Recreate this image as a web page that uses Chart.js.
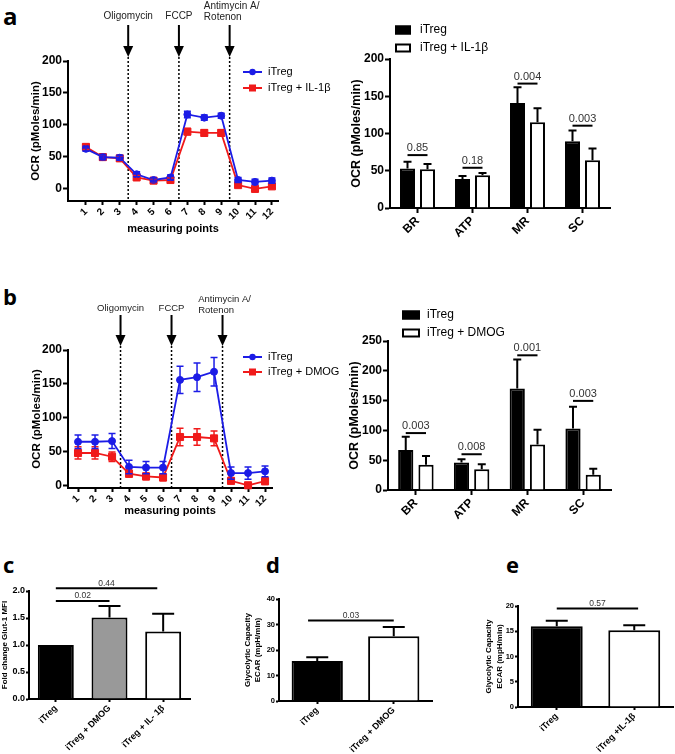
<!DOCTYPE html>
<html><head><meta charset="utf-8">
<script src="https://cdn.jsdelivr.net/npm/chart.js@4/dist/chart.umd.min.js"></script>
<style>
body{margin:0;background:#fff;width:675px;height:754px;position:relative;overflow:hidden;}
canvas{position:absolute;}
.lbl{position:absolute;font-family:'Open Sans',Arial,sans-serif;font-weight:700;line-height:1;color:#000;}
</style></head><body>
<div class="lbl" style="left:3px;top:4px;font-size:24px">a</div>
<div class="lbl" style="left:3px;top:285px;font-size:22px">b</div>
<div class="lbl" style="left:3px;top:553px;font-size:22px">c</div>
<div class="lbl" style="left:266px;top:553px;font-size:22px">d</div>
<div class="lbl" style="left:506px;top:553px;font-size:22px">e</div>
<canvas id="aL" width="345" height="240" style="left:0;top:0"></canvas>
<canvas id="aR" width="330" height="250" style="left:345px;top:0"></canvas>
<canvas id="bL" width="345" height="260" style="left:0;top:260px"></canvas>
<canvas id="bR" width="330" height="270" style="left:345px;top:260px"></canvas>
<canvas id="cC" width="225" height="234" style="left:0;top:520px"></canvas>
<canvas id="dC" width="225" height="234" style="left:225px;top:520px"></canvas>
<canvas id="eC" width="225" height="234" style="left:450px;top:520px"></canvas>
<script>
// ================= DATA =================
const measuringPoints = [1,2,3,4,5,6,7,8,9,10,11,12];
const injectionsAt = [3.5, 6.5, 9.5];
const injectionLabels = [['Oligomycin'], ['FCCP'], ['Antimycin A/', 'Rotenon']];
const ocrTicks = [0, 50, 100, 150, 200];

// panel a (left): OCR time course
const ocrA_iTreg     = [62, 49, 48, 22, 13, 17, 116, 111, 114, 13, 10, 12];
const ocrA_iTreg_sem = [4, 4, 4, 4, 3, 4, 5, 4, 4, 4, 4, 4];
const ocrA_il1b      = [65, 49, 47, 17, 12, 13, 89, 87, 87, 5, -1, 3];
const ocrA_il1b_sem  = [4, 4, 4, 3, 3, 3, 5, 5, 5, 3, 3, 3];
const seriesA = ['iTreg', 'iTreg + IL-1\u03b2'];

// panel b (left): OCR time course
const ocrB_iTreg     = [65, 65, 66, 28, 27, 27, 156, 160, 168, 19, 19, 21.5];
const ocrB_iTreg_sem = [10, 10, 11, 10, 9, 9, 20, 21, 21, 9, 9, 8];
const ocrB_dmog      = [48.5, 48.5, 43, 18, 14, 12.5, 72, 72, 70, 7.5, 1, 7];
const ocrB_dmog_sem  = [9, 9, 7, 5, 5, 5, 13, 12, 11, 4, 2, 5];
const seriesB = ['iTreg', 'iTreg + DMOG'];

// respiration parameters
const paramCats = ['BR', 'ATP', 'MR', 'SC'];
const paramA_iTreg = [53, 39, 141, 89.5];
const paramA_iTreg_sem = [9, 4, 21, 14.5];
const paramA_il1b = [52, 44, 115, 64];
const paramA_il1b_sem = [7, 3, 19, 16];
const paramA_p = ['0.85', '0.18', '0.004', '0.003'];
const paramA_pLevel = [71, 54, 167, 110.5];
const paramATicks = [0, 50, 100, 150, 200];

const paramB_iTreg = [67, 46, 170.5, 103];
const paramB_iTreg_sem = [22.5, 5.5, 48.5, 36.5];
const paramB_dmog = [42.5, 35, 76.5, 25.7];
const paramB_dmog_sem = [14.5, 8, 24.5, 10];
const paramB_p = ['0.003', '0.008', '0.001', '0.003'];
const paramB_pLevel = [95.5, 60, 226, 149.5];
const paramBTicks = [0, 50, 100, 150, 200, 250];

// panel c: Glut-1
const glutCats = ['iTreg', 'iTreg + DMOG', 'iTreg + IL- 1\u03b2'];
const glutFold = [1.0, 1.51, 1.25];
const glutSem = [0, 0.21, 0.33];
const glutTicks = [0, 0.5, 1.0, 1.5, 2.0];
const glutP = ['0.02', '0.44'];
const glutPLevel = [1.815, 2.05];
const glutPFrom = [0, 0];
const glutPTo = [1, 1.89];

// panel d: glycolytic capacity DMOG
const ecarDCats = ['iTreg', 'iTreg + DMOG'];
const ecarD = [15.7, 25.4];
const ecarDSem = [1.5, 3.6];
const ecarDTicks = [0, 10, 20, 30, 40];
const ecarDP = ['0.03'];
const ecarDPLevel = [31.6];
const ecarDPFrom = [-0.12];
const ecarDPTo = [1.0];

// panel e: glycolytic capacity IL-1b
const ecarECats = ['iTreg', 'iTreg +IL-1\u03b2'];
const ecarE = [16.0, 15.2];
const ecarESem = [1.1, 1.0];
const ecarETicks = [0, 5, 10, 15, 20];
const ecarEP = ['0.57'];
const ecarEPLevel = [19.5];
const ecarEPFrom = [0];
const ecarEPTo = [1.05];

// ================= STYLE / HELPERS =================
const FONT = "'Liberation Sans', Arial, Helvetica, sans-serif";
const BLACK = '#000';
const BLUE = '#1c1ce6';
const RED = '#f01a1a';
function f(size, weight, lh){ return {family: FONT, size: size, weight: weight || 'bold', lineHeight: lh || 1.2}; }

function lockScale(size){
  return function(s){
    if (s.isHorizontal()) s.height = size; else s.width = size;
    s.paddingLeft = 0; s.paddingRight = 0; s.paddingTop = 0; s.paddingBottom = 0;
  };
}

function axisY(o){
  return {
    min: o.min, max: o.max,
    afterBuildTicks: s => { s.ticks = o.ticks.map(v => ({value: v})); },
    afterFit: lockScale(o.width),
    border: {display: true, color: BLACK, width: 2},
    grid: {drawOnChartArea: false, drawTicks: true, tickLength: o.tickLen || 5, tickColor: BLACK, tickWidth: 2},
    ticks: {color: BLACK, font: f(o.tickSize), padding: o.tickPad || 1, autoSkip: false,
            callback: o.fmt || (v => v)},
    title: {display: true, text: o.title, color: BLACK, font: f(o.titleSize, 'bold', o.titleLH || 1.2),
            padding: {top: o.titlePad, bottom: 0}}
  };
}

function axisXCat(o){
  return {
    afterFit: lockScale(o.height),
    border: {display: true, color: BLACK, width: 2},
    grid: {drawOnChartArea: false, drawTicks: true, offset: false, tickLength: o.tickLen || 4, tickColor: BLACK, tickWidth: 2},
    ticks: {color: BLACK, font: f(o.tickSize), minRotation: 45, maxRotation: 45, padding: o.tickPad || 1, autoSkip: false}
  };
}

const baseOpts = (pad) => ({
  responsive: false, animation: false, devicePixelRatio: 1, events: [],
  layout: {autoPadding: false, padding: pad},
  plugins: {legend: {display: false}, tooltip: {enabled: false}}
});

// ----- plugins -----
function injPlugin(g){
  return {id: 'inj', beforeDatasetsDraw(chart){
    const ctx = chart.ctx, x = chart.scales.x, bottom = chart.chartArea.bottom;
    ctx.save();
    injectionsAt.forEach((v, k) => {
      const px = x.getPixelForValue(v);
      ctx.strokeStyle = BLACK; ctx.lineWidth = 1.5; ctx.setLineDash([2, 2]);
      ctx.beginPath(); ctx.moveTo(px, g.tip); ctx.lineTo(px, bottom); ctx.stroke();
      ctx.setLineDash([]); ctx.lineWidth = 2;
      ctx.beginPath(); ctx.moveTo(px, g.top); ctx.lineTo(px, g.tip - 9); ctx.stroke();
      ctx.fillStyle = BLACK;
      ctx.beginPath(); ctx.moveTo(px - 5, g.tip - 11); ctx.lineTo(px + 5, g.tip - 11); ctx.lineTo(px, g.tip); ctx.closePath(); ctx.fill();
      ctx.fillStyle = '#222'; ctx.font = g.font + 'px ' + FONT; ctx.textBaseline = 'middle';
      const lines = injectionLabels[k];
      if (lines.length === 1) {
        ctx.textAlign = 'center'; ctx.fillText(lines[0], px, g.single);
      } else {
        const w0 = ctx.measureText(lines[0]).width;
        ctx.textAlign = 'left';
        lines.forEach((t, j) => ctx.fillText(t, px - w0 / 2 + 2, g.multi[j]));
      }
    });
    ctx.restore();
  }};
}

const lineErrPlugin = {id: 'lerr', afterDatasetsDraw(chart){
  const ctx = chart.ctx, y = chart.scales.y;
  ctx.save();
  for (let di = chart.data.datasets.length - 1; di >= 0; di--) {
    const ds = chart.data.datasets[di], meta = chart.getDatasetMeta(di);
    ctx.strokeStyle = ds.borderColor; ctx.lineWidth = 1.5;
    meta.data.forEach((pt, i) => {
      const v = ds.data[i].y, e = ds.err[i];
      const yt = y.getPixelForValue(v + e), yb = y.getPixelForValue(v - e);
      ctx.beginPath();
      ctx.moveTo(pt.x, yt); ctx.lineTo(pt.x, yb);
      ctx.moveTo(pt.x - 3.5, yt); ctx.lineTo(pt.x + 3.5, yt);
      ctx.moveTo(pt.x - 3.5, yb); ctx.lineTo(pt.x + 3.5, yb);
      ctx.stroke();
    });
  }
  ctx.restore();
}};

function lineLegendPlugin(L){
  return {id: 'lleg', afterDraw(chart){
    const ctx = chart.ctx; ctx.save();
    chart.data.datasets.forEach((ds, i) => {
      const y = L.ys[i];
      ctx.strokeStyle = ds.borderColor; ctx.lineWidth = 2;
      ctx.beginPath(); ctx.moveTo(L.x, y); ctx.lineTo(L.x + 19, y); ctx.stroke();
      ctx.fillStyle = ds.borderColor;
      const cx = L.x + 9.5;
      if (ds.pointStyle === 'rect') ctx.fillRect(cx - 3.5, y - 3.5, 7, 7);
      else { ctx.beginPath(); ctx.arc(cx, y, 3.2, 0, Math.PI * 2); ctx.fill(); }
      ctx.fillStyle = BLACK; ctx.font = L.font + 'px ' + FONT;
      ctx.textBaseline = 'middle'; ctx.textAlign = 'left';
      ctx.fillText(ds.label, L.x + 25, y);
    });
    ctx.restore();
  }};
}

function barErrPlugin(capHalf){
  return {id: 'berr', afterDatasetsDraw(chart){
    const ctx = chart.ctx, y = chart.scales.y;
    ctx.save(); ctx.strokeStyle = BLACK; ctx.lineWidth = 2;
    chart.data.datasets.forEach((ds, di) => {
      const meta = chart.getDatasetMeta(di);
      meta.data.forEach((bar, i) => {
        const e = ds.err[i]; if (!e) return;
        const top = y.getPixelForValue(ds.data[i] + e);
        ctx.beginPath();
        ctx.moveTo(bar.x, bar.y); ctx.lineTo(bar.x, top);
        ctx.moveTo(bar.x - capHalf, top); ctx.lineTo(bar.x + capHalf, top);
        ctx.stroke();
      });
    });
    ctx.restore();
  }};
}

function groupBracketPlugin(levels, texts, fs){
  return {id: 'gbr', afterDatasetsDraw(chart){
    const ctx = chart.ctx, y = chart.scales.y;
    const m0 = chart.getDatasetMeta(0), m1 = chart.getDatasetMeta(1);
    ctx.save(); ctx.strokeStyle = BLACK; ctx.lineWidth = 2;
    ctx.fillStyle = '#333'; ctx.font = fs + 'px ' + FONT; ctx.textAlign = 'center'; ctx.textBaseline = 'alphabetic';
    levels.forEach((v, i) => {
      const x1 = m0.data[i].x, x2 = m1.data[i].x, py = y.getPixelForValue(v);
      ctx.beginPath(); ctx.moveTo(x1, py); ctx.lineTo(x2, py); ctx.stroke();
      ctx.fillText(texts[i], (x1 + x2) / 2, py - 4);
    });
    ctx.restore();
  }};
}

function spanBracketPlugin(levels, texts, from, to, fs, lw){
  return {id: 'sbr', afterDatasetsDraw(chart){
    const ctx = chart.ctx, x = chart.scales.x, y = chart.scales.y;
    ctx.save(); ctx.strokeStyle = BLACK; ctx.lineWidth = lw;
    ctx.fillStyle = '#333'; ctx.font = fs + 'px ' + FONT; ctx.textAlign = 'center'; ctx.textBaseline = 'alphabetic';
    levels.forEach((v, i) => {
      const x1 = x.getPixelForValue(from[i]), x2 = x.getPixelForValue(to[i]), py = y.getPixelForValue(v);
      ctx.beginPath(); ctx.moveTo(x1, py); ctx.lineTo(x2, py); ctx.stroke();
      ctx.fillText(texts[i], (x1 + x2) / 2, py - 2.5);
    });
    ctx.restore();
  }};
}

function barLegendPlugin(L, names){
  return {id: 'bleg', afterDraw(chart){
    const ctx = chart.ctx; ctx.save();
    chart.data.datasets.forEach((ds, i) => {
      const yc = L.ys[i];
      ctx.fillStyle = ds.backgroundColor;
      ctx.fillRect(L.x, yc - L.h / 2, L.w, L.h);
      ctx.strokeStyle = BLACK; ctx.lineWidth = 2;
      ctx.strokeRect(L.x + 1, yc - L.h / 2 + 1, L.w - 2, L.h - 2);
      ctx.fillStyle = BLACK; ctx.font = L.font + 'px ' + FONT;
      ctx.textBaseline = 'middle'; ctx.textAlign = 'left';
      ctx.fillText(ds.label, L.tx, yc);
    });
    ctx.restore();
  }};
}

// ----- chart builders -----
function makeLine(id, o){
  const ds = (label, vals, sem, color, style, r) => ({
    label: label, data: measuringPoints.map((p, i) => ({x: p, y: vals[i]})), err: sem,
    borderColor: color, backgroundColor: color, pointBackgroundColor: color, pointBorderColor: color,
    pointStyle: style, pointRadius: r, pointBorderWidth: 1, borderWidth: 1.8, tension: 0, clip: false
  });
  const opts = baseOpts(o.pad);
  opts.scales = {
    x: {type: 'linear', min: o.xMin, max: o.xMax,
        afterBuildTicks: s => { s.ticks = measuringPoints.map(v => ({value: v})); },
        afterFit: lockScale(o.xH),
        border: {display: true, color: BLACK, width: 2},
        grid: {drawOnChartArea: false, drawTicks: true, tickLength: 4, tickColor: BLACK, tickWidth: 2},
        ticks: {color: BLACK, font: f(10), minRotation: 45, maxRotation: 45, padding: 1, autoSkip: false},
        title: {display: true, text: 'measuring points', color: BLACK, font: f(11), padding: {top: 0, bottom: o.xTitlePad}}},
    y: axisY({min: o.yMin, max: 200, ticks: ocrTicks, width: 68, title: 'OCR (pMoles/min)',
              titleSize: 11.5, titlePad: o.yTitlePad, tickSize: 12})
  };
  return new Chart(document.getElementById(id), {
    type: 'line',
    data: {datasets: [ds(o.names[0], o.s1, o.e1, BLUE, 'circle', 3.5), ds(o.names[1], o.s2, o.e2, RED, 'rect', 5)]},
    options: opts,
    plugins: [injPlugin(o.inj), lineErrPlugin, lineLegendPlugin(o.legend)]
  });
}

function makeGroupBar(id, o){
  const opts = baseOpts(o.pad);
  opts.datasets = {bar: {categoryPercentage: 0.727, barPercentage: 0.75}};
  opts.scales = {
    x: axisXCat({height: o.xH, tickSize: 12, tickLen: 5}),
    y: axisY({min: 0, max: o.yMax, ticks: o.ticks, width: o.yW, title: 'OCR (pMoles/min)',
              titleSize: 12.5, titlePad: o.yTitlePad, tickSize: 12})
  };
  return new Chart(document.getElementById(id), {
    type: 'bar',
    data: {labels: paramCats, datasets: [
      {label: o.names[0], data: o.s1, err: o.e1, backgroundColor: '#000', borderColor: '#000', borderWidth: 2},
      {label: o.names[1], data: o.s2, err: o.e2, backgroundColor: '#fff', borderColor: '#000', borderWidth: 2}
    ]},
    options: opts,
    plugins: [barErrPlugin(4), groupBracketPlugin(o.pLevel, o.pText, 11), barLegendPlugin(o.legend)]
  });
}

function makeSimpleBar(id, o){
  const opts = baseOpts(o.pad);
  opts.datasets = {bar: {categoryPercentage: 1, barPercentage: o.bp}};
  opts.scales = {
    x: axisXCat({height: o.xH, tickSize: 9, tickLen: 3}),
    y: axisY({min: 0, max: o.yMax, ticks: o.ticks, width: o.yW, title: o.title, titleSize: 8, titleLH: o.titleLH,
              titlePad: o.yTitlePad, tickSize: o.tickSize, tickLen: 3, fmt: o.fmt})
  };
  return new Chart(document.getElementById(id), {
    type: 'bar',
    data: {labels: o.cats, datasets: [{data: o.vals, err: o.sem, backgroundColor: o.colors, borderColor: '#000', borderWidth: 2}]},
    options: opts,
    plugins: [barErrPlugin(11), spanBracketPlugin(o.pLevel, o.pText, o.pFrom, o.pTo, 8.5, 2)]
  });
}

// ================= CHARTS =================
makeLine('aL', {
  names: seriesA, s1: ocrA_iTreg, e1: ocrA_iTreg_sem, s2: ocrA_il1b, e2: ocrA_il1b_sem,
  pad: {left: 0, top: 61, right: 67, bottom: 0}, xH: 39, xMin: -0.06, xMax: 12.36, yMin: -20,
  xTitlePad: 4.4, yTitlePad: 29,
  inj: {top: 25, tip: 57, single: 16, multi: [6, 17], font: 10},
  legend: {x: 243, ys: [72, 88], font: 11}
});

makeLine('bL', {
  names: seriesB, s1: ocrB_iTreg, e1: ocrB_iTreg_sem, s2: ocrB_dmog, e2: ocrB_dmog_sem,
  pad: {left: 0, top: 90, right: 73, bottom: 0}, xH: 32, xMin: 0.41, xMax: 12.41, yMin: -3,
  xTitlePad: 2.4, yTitlePad: 30,
  inj: {top: 55, tip: 86, single: 48, multi: [39, 50], font: 9.5},
  legend: {x: 243, ys: [97, 112], font: 11}
});

makeGroupBar('aR', {
  names: seriesA, s1: paramA_iTreg, e1: paramA_iTreg_sem, s2: paramA_il1b, e2: paramA_il1b_sem,
  pLevel: paramA_pLevel, pText: paramA_p, ticks: paramATicks, yMax: 200,
  pad: {left: 0, top: 59, right: 65, bottom: 0}, xH: 42, yW: 45, yTitlePad: 4.5,
  legend: {x: 50, w: 16, h: 9, ys: [30, 48], tx: 75, font: 12}
});

makeGroupBar('bR', {
  names: seriesB, s1: paramB_iTreg, e1: paramB_iTreg_sem, s2: paramB_dmog, e2: paramB_dmog_sem,
  pLevel: paramB_pLevel, pText: paramB_p, ticks: paramBTicks, yMax: 250,
  pad: {left: 0, top: 81, right: 64, bottom: 0}, xH: 40, yW: 43, yTitlePad: 2.5,
  legend: {x: 57, w: 18, h: 9, ys: [55, 73], tx: 82, font: 12}
});

makeSimpleBar('cC', {
  cats: glutCats, vals: glutFold, sem: glutSem, colors: ['#000', '#999', '#fff'], bp: 0.67,
  ticks: glutTicks, yMax: 2.0, fmt: v => v.toFixed(1), tickSize: 9,
  title: 'Fold change Glut-1 MFI', yTitlePad: 0.2,
  pLevel: glutPLevel, pText: glutP, pFrom: glutPFrom, pTo: glutPTo,
  pad: {left: 0, top: 71, right: 35, bottom: 0}, xH: 55, yW: 29
});

makeSimpleBar('dC', {
  cats: ecarDCats, vals: ecarD, sem: ecarDSem, colors: ['#000', '#fff'], bp: 0.67,
  ticks: ecarDTicks, yMax: 40, tickSize: 7.5,
  title: ['Glycolytic Capacity', 'ECAR (mpH/min)'], titleLH: 1.25, yTitlePad: 18,
  pLevel: ecarDPLevel, pText: ecarDP, pFrom: ecarDPFrom, pTo: ecarDPTo,
  pad: {left: 0, top: 79, right: 18, bottom: 0}, xH: 53, yW: 54
});

makeSimpleBar('eC', {
  cats: ecarECats, vals: ecarE, sem: ecarESem, colors: ['#000', '#fff'], bp: 0.67,
  ticks: ecarETicks, yMax: 20, tickSize: 7.5,
  title: ['Glycolytic Capacity', 'ECAR (mpH/min)'], titleLH: 1.35, yTitlePad: 33.6,
  pLevel: ecarEPLevel, pText: ecarEP, pFrom: ecarEPFrom, pTo: ecarEPTo,
  pad: {left: 0, top: 86, right: 2, bottom: 0}, xH: 47, yW: 68
});
</script>
</body></html>
